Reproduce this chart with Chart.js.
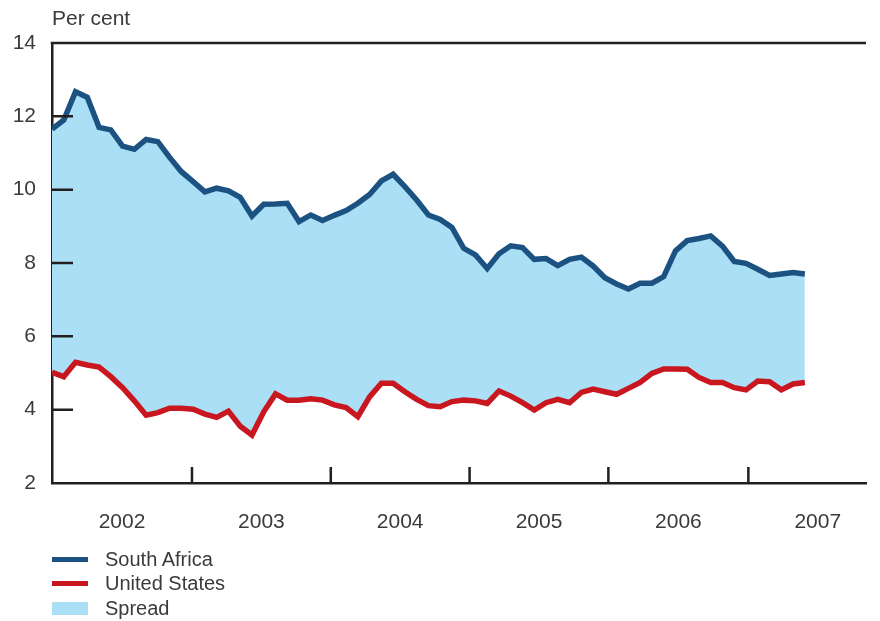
<!DOCTYPE html>
<html>
<head>
<meta charset="utf-8">
<script src="https://cdn.jsdelivr.net/npm/chart.js@4/dist/chart.umd.min.js"></script>
<style>
    body { margin: 0; background: #fff; }
    #wrap { position: relative; width: 880px; height: 621px; font-family: "Liberation Sans", Arial, sans-serif; color: #3a3a3a; }
    #chart { position: absolute; left: 0; top: 0; }
    #unit { position: absolute; left: 52px; top: 6px; font-size: 21px; }
    #legend { position: absolute; left: 52px; top: 547px; font-size: 20px; }
    .row { display: flex; align-items: center; height: 24.5px; }
    .mark { width: 36px; margin-right: 17px; }
</style>
</head>
<body>
<div id="wrap">
    <canvas id="chart" width="880" height="621"></canvas>
    <div id="unit">Per cent</div>
    <div id="legend"></div>
</div>
<script>
// Monthly yields, Jan 2002 onwards
const southAfrica = [11.65, 11.90, 12.67, 12.52, 11.70, 11.63, 11.19, 11.10, 11.37, 11.31, 10.88, 10.49,
    10.22, 9.94, 10.04, 9.97, 9.79, 9.28, 9.60, 9.61, 9.63, 9.13, 9.31, 9.16,
    9.30, 9.43, 9.63, 9.87, 10.24, 10.42, 10.08, 9.72, 9.31, 9.19, 8.97, 8.40,
    8.22, 7.85, 8.25, 8.47, 8.42, 8.10, 8.12, 7.93, 8.10, 8.16, 7.92, 7.60,
    7.43, 7.29, 7.45, 7.45, 7.63, 8.33, 8.61, 8.67, 8.74, 8.46, 8.04, 7.99,
    7.83, 7.66, 7.70, 7.74, 7.70];
const unitedStates = [5.02, 4.90, 5.29, 5.22, 5.16, 4.90, 4.60, 4.24, 3.85, 3.92, 4.04, 4.04,
    4.01, 3.88, 3.79, 3.96, 3.55, 3.31, 3.94, 4.43, 4.26, 4.26, 4.30, 4.26,
    4.13, 4.06, 3.81, 4.35, 4.72, 4.72, 4.49, 4.28, 4.11, 4.08, 4.22, 4.26,
    4.24, 4.17, 4.51, 4.37, 4.19, 3.99, 4.19, 4.28, 4.19, 4.47, 4.56, 4.49,
    4.42, 4.58, 4.74, 4.99, 5.11, 5.11, 5.10, 4.88, 4.74, 4.74, 4.60, 4.54,
    4.78, 4.76, 4.54, 4.70, 4.74];

const yearLabels = ['2002', '2003', '2004', '2005', '2006', '2007'];
// year boundaries in observation units, as placed on the original axis
const yearBreaks = [0, 11.9, 23.7, 35.5, 47.3, 59.2, 71.0];
const yTicks = [2, 4, 6, 8, 10, 12, 14];

const colors = {
    sa: '#1b5282',
    us: '#c8171f',
    spread: '#aadff6',
    axis: '#231f20'
};

const legendItems = [
    { label: 'South Africa', color: colors.sa, type: 'line' },
    { label: 'United States', color: colors.us, type: 'line' },
    { label: 'Spread', color: colors.spread, type: 'box' }
];

const yearMids = yearLabels.map((_, i) => (yearBreaks[i] + yearBreaks[i + 1]) / 2);
const toPoints = arr => arr.map((v, i) => ({ x: i, y: v }));

// inward tick marks + top frame line
const frameTicks = {
    id: 'frameTicks',
    afterDraw(chart) {
        const { ctx, chartArea, scales } = chart;
        ctx.save();
        ctx.strokeStyle = colors.axis;
        ctx.lineWidth = 2.5;
        ctx.beginPath();
        ctx.moveTo(chartArea.left - 1.25, chartArea.top);
        ctx.lineTo(chartArea.right, chartArea.top);
        yTicks.slice(1, -1).forEach(v => {
            const y = scales.y.getPixelForValue(v);
            ctx.moveTo(chartArea.left, y);
            ctx.lineTo(chartArea.left + 21, y);
        });
        yearBreaks.slice(1, -1).forEach(v => {
            const x = scales.x.getPixelForValue(v);
            ctx.moveTo(x, chartArea.bottom);
            ctx.lineTo(x, chartArea.bottom - 16);
        });
        ctx.stroke();
        ctx.restore();
    }
};

const tickFont = { family: '"Liberation Sans", Arial, sans-serif', size: 21 };

const chart = new Chart(document.getElementById('chart'), {
    type: 'line',
    data: {
        datasets: [
            {
                label: 'South Africa',
                data: toPoints(southAfrica),
                borderColor: colors.sa,
                backgroundColor: colors.spread,
                borderWidth: 5.5,
                pointRadius: 0,
                tension: 0,
                fill: '+1'
            },
            {
                label: 'United States',
                data: toPoints(unitedStates),
                borderColor: colors.us,
                borderWidth: 5.5,
                pointRadius: 0,
                tension: 0,
                fill: false
            }
        ]
    },
    options: {
        responsive: false,
        animation: false,
        devicePixelRatio: 1,
        layout: { padding: { top: 43, right: 14, bottom: 78, left: 0 } },
        plugins: {
            legend: { display: false },
            tooltip: { enabled: false },
            filler: { drawTime: 'beforeDatasetsDraw' }
        },
        scales: {
            x: {
                type: 'linear',
                min: 0,
                max: 69.2,
                afterFit(s) { s.height = 60; },
                afterBuildTicks(s) { s.ticks = yearMids.map(v => ({ value: v })); },
                grid: { display: false, drawTicks: false },
                border: { display: true, color: colors.axis, width: 2.5 },
                ticks: {
                    autoSkip: false,
                    maxRotation: 0,
                    padding: 27,
                    color: '#3a3a3a',
                    font: tickFont,
                    callback: (v, i) => yearLabels[i]
                }
            },
            y: {
                min: 2,
                max: 14,
                afterFit(s) { s.width = 52; },
                afterBuildTicks(s) { s.ticks = yTicks.map(v => ({ value: v })); },
                grid: { display: false, drawTicks: false },
                border: { display: true, color: colors.axis, width: 2.5 },
                ticks: { padding: 16, color: '#3a3a3a', font: tickFont }
            }
        }
    },
    plugins: [frameTicks]
});

// legend
document.getElementById('legend').innerHTML = legendItems.map(item => `
    <div class="row">
        <div class="mark" style="height:${item.type === 'line' ? 5 : 13}px;background:${item.color}"></div>
        <span>${item.label}</span>
    </div>
`).join('');
</script>
</body>
</html>
